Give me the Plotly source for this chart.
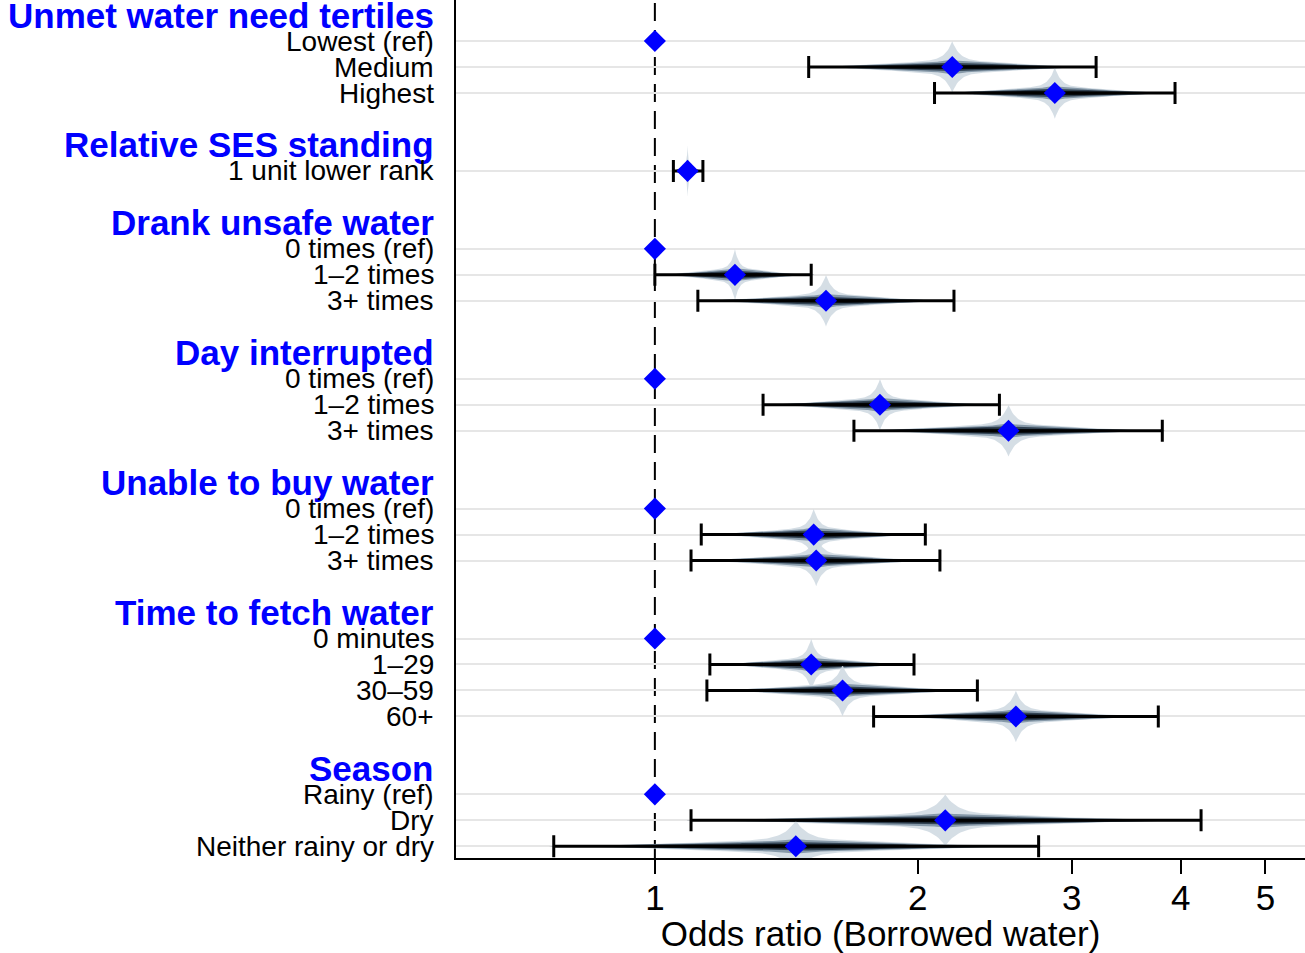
import numpy as np
import plotly.graph_objects as go

# data
group_titles = ["Unmet water need tertiles", "Relative SES standing", "Drank unsafe water",
                "Day interrupted", "Unable to buy water", "Time to fetch water", "Season"]
group_sizes = [3, 1, 3, 3, 3, 4, 3]
row_labels = ["Lowest (ref)", "Medium", "Highest",
              "1 unit lower rank",
              "0 times (ref)", "1\u20132 times", "3+ times",
              "0 times (ref)", "1\u20132 times", "3+ times",
              "0 times (ref)", "1\u20132 times", "3+ times",
              "0 minutes", "1\u201329", "30\u201359", "60+",
              "Rainy (ref)", "Dry", "Neither rainy or dry"]
odds_ratio = [1, 2.19, 2.87,
              1.09,
              1, 1.235, 1.57,
              1, 1.81, 2.54,
              1, 1.52, 1.53,
              1, 1.51, 1.64, 2.59,
              1, 2.15, 1.45]
ci_low = [None, 1.50, 2.09,
          1.05,
          None, 1.00, 1.12,
          None, 1.33, 1.69,
          None, 1.13, 1.10,
          None, 1.156, 1.147, 1.78,
          None, 1.10, 0.766]
ci_high = [None, 3.20, 3.94,
           1.135,
           None, 1.51, 2.20,
           None, 2.48, 3.81,
           None, 2.04, 2.12,
           None, 1.98, 2.34, 3.77,
           None, 4.22, 2.75]
x_ticks = [1, 2, 3, 4, 5]

FONT = "Liberation Sans, Arial, Helvetica, sans-serif"

# row positions (header row, then items, then a blank row)
header_pos = []
row_pos = []
pos = 0
for size in group_sizes:
    header_pos.append(pos)
    row_pos.extend(range(pos + 1, pos + 1 + size))
    pos += size + 2

fig = go.Figure()

# density spindles built from estimate and CI (normal on log scale), tapered to the CI ends
z = np.linspace(-2.0, 2.0, 241)
taper = 1 - (z / 2.0) ** 2
layers = [
    ("rgba(208,218,226,0.9)", lambda t: 0.75 * np.exp(-10 * np.abs(t)) + 0.24 * np.exp(-t ** 2 / 2)),
    ("rgba(125,145,162,0.9)", lambda t: 0.10 * np.exp(-8 * np.abs(t)) + 0.19 * np.exp(-t ** 2 / 2)),
    ("rgba(45,62,78,0.95)", lambda t: 0.04 * np.exp(-8 * np.abs(t)) + 0.14 * np.exp(-t ** 2 / 2)),
    ("rgba(10,18,26,1)", lambda t: 0.09 * np.exp(-t ** 2 / 2)),
]
for y, est, lo, hi in zip(row_pos, odds_ratio, ci_low, ci_high):
    if lo is None:
        continue
    se = (np.log(hi) - np.log(lo)) / (2 * 1.96)
    xs = np.exp(np.log(est) + z * se)
    for color, f in layers:
        h = f(z) * taper
        fig.add_trace(go.Scatter(
            x=np.concatenate([xs, xs[::-1]]),
            y=np.concatenate([y + h, (y - h)[::-1]]),
            fill="toself", fillcolor=color, line=dict(width=0),
            mode="lines", hoverinfo="skip", showlegend=False))

# confidence intervals
ci_rows = [i for i, lo in enumerate(ci_low) if lo is not None]
fig.add_trace(go.Scatter(
    x=[odds_ratio[i] for i in ci_rows],
    y=[row_pos[i] for i in ci_rows],
    mode="markers", marker=dict(size=1, color="rgba(0,0,0,0)"),
    error_x=dict(type="data", symmetric=False,
                 array=[ci_high[i] - odds_ratio[i] for i in ci_rows],
                 arrayminus=[odds_ratio[i] - ci_low[i] for i in ci_rows],
                 color="black", thickness=3, width=11),
    showlegend=False, hoverinfo="skip"))

# point estimates
fig.add_trace(go.Scatter(
    x=odds_ratio, y=row_pos, mode="markers",
    marker=dict(symbol="diamond", size=17, color="#0000ff", line=dict(width=0)),
    showlegend=False))

# reference line at OR = 1
fig.add_shape(type="line", xref="x", yref="paper", x0=1, x1=1, y0=0, y1=1,
              line=dict(color="black", width=2, dash="18px,9px"), layer="between")

# labels
for y, title in zip(header_pos, group_titles):
    fig.add_annotation(x=0, xref="paper", y=y, yref="y", text="<b>" + title + "</b>",
                       xanchor="right", yanchor="middle", xshift=-20, showarrow=False,
                       font=dict(family=FONT, size=35, color="#0000ff"))
for y, lab in zip(row_pos, row_labels):
    fig.add_annotation(x=0, xref="paper", y=y, yref="y", text=lab,
                       xanchor="right", yanchor="middle", xshift=-20, showarrow=False,
                       font=dict(family=FONT, size=28, color="black"))

fig.update_layout(
    width=1305, height=953,
    margin=dict(l=456, r=0, t=0, b=95),
    paper_bgcolor="white", plot_bgcolor="white",
    font=dict(family=FONT, color="black"),
    xaxis=dict(type="log", range=[np.log10(0.592), np.log10(5.55)],
               tickvals=x_ticks, ticktext=[str(v) for v in x_ticks],
               ticks="outside", ticklen=14, tickwidth=2, tickcolor="black",
               tickfont=dict(size=35), ticklabelstandoff=-6, showgrid=False, zeroline=False,
               showline=True, linecolor="black", linewidth=2, automargin=False,
               title=dict(text="Odds ratio (Borrowed water)", font=dict(size=35), standoff=8)),
    yaxis=dict(range=[32.45, -0.58], tickvals=row_pos, showticklabels=False,
               showgrid=True, gridcolor="#e6e6e6", gridwidth=2, zeroline=False,
               showline=True, linecolor="black", linewidth=2, ticks=""),
)

fig.write_html("out.html", config={"displayModeBar": False},
               post_script="document.body.style.margin='0px';")
